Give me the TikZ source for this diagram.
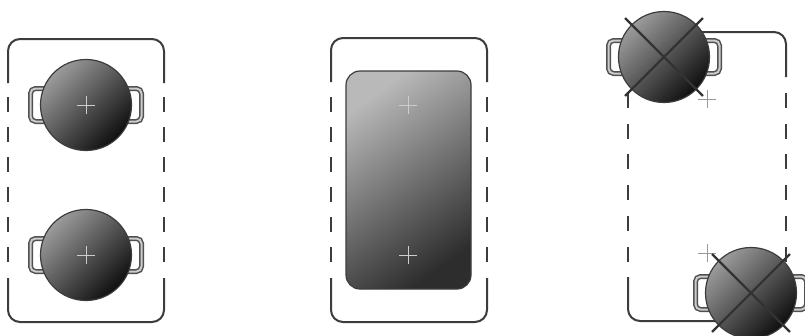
\documentclass[tikz,border=0pt]{standalone}
\usetikzlibrary{calc}
\definecolor{linecolor}{RGB}{60,60,60}
\definecolor{potlight}{RGB}{155,155,155}
\definecolor{potdark}{RGB}{15,15,15}
\definecolor{platelight}{RGB}{185,185,185}
\definecolor{platedark}{RGB}{45,45,45}
\definecolor{markcolor}{RGB}{205,205,205}
\tikzset{
  outline/.style = {draw=linecolor, line width=2pt},
  handle/.style  = {draw=linecolor!90, line width=1.5pt, double=gray!40, double distance=2pt,
                    rounded corners=5pt},
  pot/.style     = {circle, draw=linecolor, line width=1.2pt, inner sep=0pt, minimum size=91pt,
                    top color=potlight, bottom color=potdark, shading angle=45},
  plate/.style   = {rectangle, rounded corners=14pt, draw=linecolor, line width=1.2pt, inner sep=0pt,
                    minimum width=125pt, minimum height=218pt,
                    top color=platelight, bottom color=platedark, shading angle=36},
  centre/.style  = {draw=markcolor, line width=1pt},
  freecentre/.style = {draw=gray!80, line width=1pt},
  cutline/.style = {draw=black!80, line width=2.4pt, shorten >=-9pt, shorten <=-9pt},
}

\begin{document}
\begin{tikzpicture}[x=1pt, y=-1pt]
  \useasboundingbox (0,0) rectangle (805,335);

  % left hob and middle hob
  \foreach \i/\x/\y in {a/8/39, b/331/38} {
    \draw[outline] (\x,\y+44) -- (\x,\y+12) arc[start angle=180, end angle=270, radius=12]
      -- (\x+144,\y) arc[start angle=-90, end angle=0, radius=12] -- (\x+156,\y+44);
    \draw[outline] (\x,278) -- (\x,310) arc[start angle=180, end angle=270, x radius=12, y radius=-12]
      -- (\x+144,322) arc[start angle=-90, end angle=0, x radius=12, y radius=-12] -- (\x+156,278);
    \foreach \k in {97,127,157,187,217,247} {
      \draw[outline] (\x,\k) -- (\x,\k+15);
      \draw[outline] (\x+156,\k) -- (\x+156,\k+15);
    }
  }

  % right hob
  \draw[outline] (700,32) -- (774,32) arc[start angle=-90, end angle=0, radius=12] -- (786,77);
  \draw[outline] (628,277) -- (628,309) arc[start angle=180, end angle=270, x radius=12, y radius=-12] -- (720,321);
  \foreach \k in {93,124,154,185,216,247} {
    \draw[outline] (628,\k) -- (628,\k+15);
    \draw[outline] (786,\k) -- (786,\k+15);
  }

  % free centre marks of the right hob
  \foreach \x/\y in {707/99, 707/253} {
    \draw[freecentre] (\x-9,\y) -- (\x+9,\y) (\x,\y-9) -- (\x,\y+9);
  }

  % pots
  \foreach \i/\x/\y in {a/86/105, b/86/255, c/664/57, d/751/293} {
    \draw[handle] (\x-55.5,\y-16.5) rectangle (\x+55.5,\y+16.5);
    \node[pot] (pot\i) at (\x,\y) {};
  }

  % plate
  \node[plate] (plate) at (408.5,180) {};

  % centre marks
  \foreach \x/\y in {86/105, 86/255, 408/105, 408/255} {
    \draw[centre] (\x-9,\y) -- (\x+9,\y) (\x,\y-9) -- (\x,\y+9);
  }

  % crossed out pots
  \foreach \i in {c,d} {
    \draw[cutline] (pot\i.north west) -- (pot\i.south east);
    \draw[cutline] (pot\i.north east) -- (pot\i.south west);
  }
\end{tikzpicture}
\end{document}
